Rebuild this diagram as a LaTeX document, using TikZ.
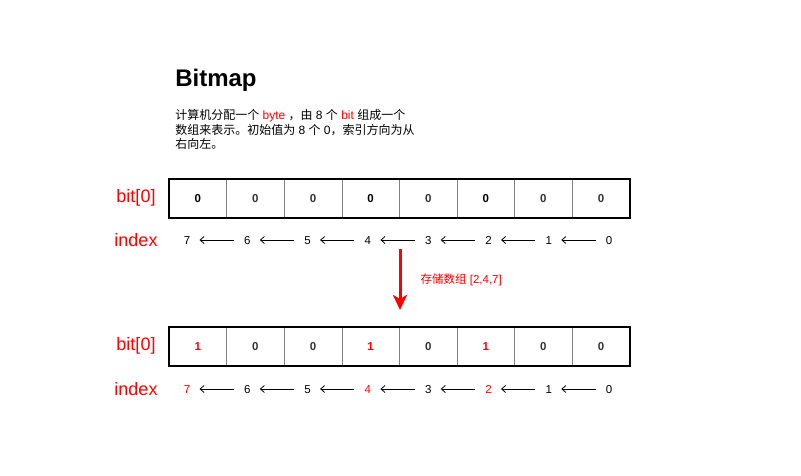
\documentclass[tikz,border=0pt]{standalone}
\usepackage{fontspec}
\setmainfont{Liberation Sans}
\newfontfamily\cjk{Noto Sans CJK SC}
\usepackage{tikz}
\usetikzlibrary{positioning}
\usetikzlibrary{fit}
\usetikzlibrary{arrows.meta}
\definecolor{gray}{rgb}{0.5,0.5,0.5}
\definecolor{dark}{rgb}{0.2,0.2,0.2}

\begin{document}
\begin{tikzpicture}[
            x = 1pt, y = -1pt, % pixel grid
            node distance = 57.6pt, % width of one cell
            semithick
        ]

        \tikzstyle{cell}=[
            draw = gray,
            thin,
            minimum width = 57.6pt,
            minimum height = 39pt,
            inner sep = 0pt,
            font = \fontsize{11.5}{13}\selectfont\bfseries,
            text = dark
        ]
        \tikzstyle{idx}=[
            inner sep = 1pt,
            text height = 8.2pt,
            text depth = 0pt,
            font = \fontsize{11.5}{13}\selectfont
        ]
        \tikzstyle{tag}=[
            text = red,
            font = \fontsize{18}{20}\selectfont
        ]
        \tikzstyle{step back}=[
            line width = 0.8pt,
            -{Straight Barb[length=4pt,width=7pt]},
            shorten > = 8pt,
            shorten < = 9pt
        ]

        \useasboundingbox (0,0) rectangle (801,476);

        % title and text
        \node[anchor=base west, inner sep=0pt, font=\fontsize{24}{28}\selectfont\bfseries] (T) at (175,87) {Bitmap};
        \node[anchor=north west, inner sep=0pt, align=left, font=\fontsize{12}{14.3}\selectfont] (P) at (175,109.5)
            {{\cjk 计算机分配一个} {\color{red}byte} {\cjk ，由} 8 {\cjk 个} {\color{red}bit} {\cjk 组成一个}\\
             {\cjk 数组来表示。初始值为} 8 {\cjk 个} 0{\cjk ，索引方向为从}\\
             {\cjk 右向左。}};

        % first byte
        \node[tag] (L1) at (136,198) {bit[0]};
        \node[cell, text=black] (B7) at (197.8,198.5) {0};
        \node[cell] (B6) [right of=B7] {0};
        \node[cell] (B5) [right of=B6] {0};
        \node[cell, text=black] (B4) [right of=B5] {0};
        \node[cell] (B3) [right of=B4] {0};
        \node[cell, text=black] (B2) [right of=B3] {0};
        \node[cell] (B1) [right of=B2] {0};
        \node[cell] (B0) [right of=B1] {0};
        \node[fit=(B7) (B0), draw, line width=2pt, inner sep=0pt] (F1) {};

        % index
        \node[tag] (X1) at (136,240) {index};
        \begin{scope}[node distance=60.3pt]
        \node[idx] (I7) at (187,240) {7};
        \node[idx] (I6) [right of=I7] {6};
        \node[idx] (I5) [right of=I6] {5};
        \node[idx] (I4) [right of=I5] {4};
        \node[idx] (I3) [right of=I4] {3};
        \node[idx] (I2) [right of=I3] {2};
        \node[idx] (I1) [right of=I2] {1};
        \node[idx] (I0) [right of=I1] {0};
        \end{scope}

        \path[step back] (I6) edge (I7);
        \path[step back] (I5) edge (I6);
        \path[step back] (I4) edge (I5);
        \path[step back] (I3) edge (I4);
        \path[step back] (I2) edge (I3);
        \path[step back] (I1) edge (I2);
        \path[step back] (I0) edge (I1);

        % store
        \coordinate (S) at (400,249);
        \coordinate (E) at (400,310);
        \draw[red, line width=3pt, -{Stealth[length=15pt,width=14pt,inset=4pt]}] (S) -- (E);
        \node[anchor=west, text=red, font=\fontsize{11.5}{13}\selectfont] (D) at (417,280) {{\cjk 存储数组} [2,4,7]};

        % second byte
        \node[tag] (L2) at (136,346) {bit[0]};
        \node[cell, text=red] (C7) at (197.8,346.5) {1};
        \node[cell] (C6) [right of=C7] {0};
        \node[cell] (C5) [right of=C6] {0};
        \node[cell, text=red] (C4) [right of=C5] {1};
        \node[cell] (C3) [right of=C4] {0};
        \node[cell, text=red] (C2) [right of=C3] {1};
        \node[cell] (C1) [right of=C2] {0};
        \node[cell] (C0) [right of=C1] {0};
        \node[fit=(C7) (C0), draw, line width=2pt, inner sep=0pt] (F2) {};

        % index
        \node[tag] (X2) at (136,389) {index};
        \begin{scope}[node distance=60.3pt]
        \node[idx, text=red] (J7) at (187,389) {7};
        \node[idx] (J6) [right of=J7] {6};
        \node[idx] (J5) [right of=J6] {5};
        \node[idx, text=red] (J4) [right of=J5] {4};
        \node[idx] (J3) [right of=J4] {3};
        \node[idx, text=red] (J2) [right of=J3] {2};
        \node[idx] (J1) [right of=J2] {1};
        \node[idx] (J0) [right of=J1] {0};
        \end{scope}

        \path[step back] (J6) edge (J7);
        \path[step back] (J5) edge (J6);
        \path[step back] (J4) edge (J5);
        \path[step back] (J3) edge (J4);
        \path[step back] (J2) edge (J3);
        \path[step back] (J1) edge (J2);
        \path[step back] (J0) edge (J1);

  \end{tikzpicture}
\end{document}
